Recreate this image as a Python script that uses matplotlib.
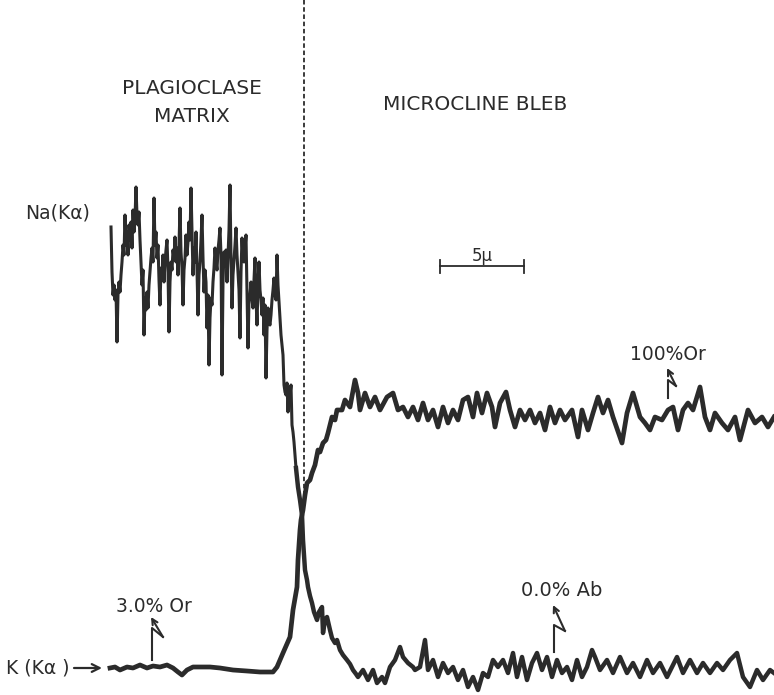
import numpy as np
from matplotlib import pyplot as plt

# Traza Na(Ka) no plagioclasio (uma leitura por pixel, x = 111..296)
na_plag_x = list(range(111, 297))
na_plag_y = [227, 272, 295, 285, 300, 290, 342, 295, 282, 292,
             275, 262, 245, 255, 215, 245, 232, 255, 225, 240,
             222, 248, 210, 232, 218, 187, 215, 225, 212, 240,
             262, 285, 270, 335, 298, 310, 292, 308, 285, 272,
             258, 248, 262, 198, 245, 232, 258, 245, 280, 305,
             268, 278, 255, 282, 262, 250, 240, 270, 332, 282,
             262, 270, 250, 258, 237, 262, 248, 275, 245, 208,
             252, 268, 305, 270, 258, 235, 255, 242, 222, 240,
             188, 232, 275, 248, 262, 232, 270, 315, 275, 262,
             240, 215, 258, 292, 270, 282, 328, 295, 365, 318,
             298, 305, 282, 268, 248, 262, 270, 250, 240, 228,
             255, 375, 282, 252, 265, 250, 282, 255, 230, 185,
             258, 308, 275, 260, 245, 228, 255, 272, 290, 338,
             272, 238, 258, 262, 248, 235, 290, 348, 300, 295,
             282, 300, 308, 280, 258, 298, 325, 285, 262, 290,
             300, 315, 298, 335, 305, 378, 330, 308, 322, 325,
             315, 300, 290, 278, 295, 300, 255, 285, 302, 318,
             335, 345, 355, 385, 392, 395, 383, 412, 388, 395,
             385, 425, 432, 442, 455, 468]

# Traza Na(Ka): cruzamento -> linha de base na microclina
na_x = [296, 298, 300, 302, 303, 305, 307, 308, 310, 312,
        314, 317, 319, 322, 323, 325, 327, 330, 332, 335, 337, 340, 343, 347, 350, 353, 356, 358,
        363, 368, 373, 377, 382, 385, 390, 395, 400, 403, 408, 413, 415, 420, 425, 428, 433, 438,
        443, 448, 453, 458, 463, 468, 473, 478, 483, 488, 493, 498, 503, 508, 513, 517, 522, 527,
        532, 537, 542, 547, 552, 557, 562, 567, 572, 577, 582, 587, 592, 595, 600, 607, 613, 620,
        627, 633, 640, 647, 653, 660, 667, 677, 683, 690, 697, 703, 710, 717, 723, 730, 737, 743,
        750, 757, 763, 770, 774]
na_y = [468, 487, 500, 515, 540, 570, 580, 587, 596, 603,
        612, 620, 612, 607, 633, 620, 617, 630, 638, 643, 640, 650, 655, 660, 664, 670, 674, 677,
        670, 680, 670, 683, 677, 683, 667, 660, 647, 657, 663, 667, 670, 667, 640, 670, 660, 677,
        663, 673, 667, 680, 670, 687, 677, 690, 673, 677, 660, 667, 660, 673, 653, 677, 657, 680,
        663, 653, 670, 657, 677, 660, 673, 667, 680, 660, 677, 667, 650, 657, 670, 660, 673, 657,
        673, 663, 677, 660, 673, 663, 677, 657, 673, 660, 673, 663, 673, 663, 670, 660, 653, 677,
        687, 670, 680, 670, 673]

# Traza K(Ka): linha de base no plagioclasio -> cruzamento -> patamar na microclina
k_x = [110, 115, 120, 127, 133, 140, 147, 153, 160, 167, 173, 178, 182, 187, 193, 200, 210, 220,
       233, 247, 260, 273, 277, 283, 290, 293, 297, 298, 300, 301, 303, 305, 307, 310, 312, 315,
       318, 320, 323, 326, 328, 332, 335, 337, 342, 345, 350, 355, 358, 360, 365, 370, 375, 380,
       387, 393, 398, 403, 408, 413, 418, 423, 428, 433, 438, 443, 448, 453, 458, 463, 468, 473,
       477, 482, 487, 492, 495, 500, 506, 510, 515, 520, 525, 530, 535, 540, 545, 550, 555, 560,
       565, 572, 578, 582, 588, 593, 598, 603, 608, 613, 622, 627, 633, 640, 645, 650, 655, 662,
       668, 673, 678, 683, 688, 693, 700, 705, 710, 715, 722, 728, 735, 740, 748, 755, 762, 768,
       774]
k_y = [668, 667, 670, 667, 668, 665, 668, 666, 667, 665, 668, 672, 675, 670, 667, 667, 667, 668,
       670, 671, 672, 672, 667, 653, 637, 610, 587, 560, 530, 520, 510, 495, 483, 480, 473, 465,
       450, 452, 443, 440, 433, 417, 420, 410, 410, 400, 407, 380, 393, 410, 393, 407, 397, 410,
       397, 393, 410, 407, 417, 407, 420, 403, 420, 410, 427, 407, 423, 410, 420, 400, 397, 417,
       393, 413, 393, 407, 427, 403, 392, 410, 427, 410, 420, 410, 423, 413, 430, 407, 423, 410,
       420, 410, 437, 410, 430, 413, 397, 413, 400, 417, 443, 413, 393, 417, 423, 430, 417, 420,
       410, 407, 430, 410, 403, 410, 387, 417, 430, 413, 423, 430, 417, 440, 410, 423, 417, 427,
       417]

# Rotulos
titulos = ["PLAGIOCLASE", "MATRIX", "MICROCLINE BLEB"]
rotulos_traco = ["Na(K\u03b1)", "K (K\u03b1 )"]
rotulos_pct = ["3.0% Or", "0.0% Ab", "100%Or"]
escala = "5\u03bc"

cor = "#2b2b2b"
fig = plt.figure(figsize=(7.74, 6.95), dpi=100)
ax = fig.add_axes([0, 0, 1, 1])
ax.set_xlim(0, 774)
ax.set_ylim(695, 0)
ax.axis("off")

ax.plot(na_plag_x, na_plag_y, color=cor, lw=2.2)
ax.plot(na_x, na_y, color=cor, lw=3.2)
ax.plot(k_x, k_y, color=cor, lw=3.4)

# limite entre as fases
ax.plot([304, 304], [0, 505], color=cor, lw=1.3, ls=(0, (2.5, 1.5)))

ax.text(192, 89, titulos[0], ha="center", va="center", fontsize=14.5, color=cor)
ax.text(192, 116, titulos[1], ha="center", va="center", fontsize=14.5, color=cor)
ax.text(475, 104, titulos[2], ha="center", va="center", fontsize=14.5, color=cor)
ax.text(25, 213, rotulos_traco[0], ha="left", va="center", fontsize=13.5, color=cor)
ax.text(6, 668, rotulos_traco[1], ha="left", va="center", fontsize=13.5, color=cor)
ax.annotate("", xy=(102, 668), xytext=(74, 668),
            arrowprops=dict(arrowstyle="->", color=cor, lw=1.6, mutation_scale=14,
                            shrinkA=0, shrinkB=0))

# barra de escala
ax.plot([440, 524], [266, 266], color=cor, lw=1.3)
ax.plot([440, 440], [260, 273], color=cor, lw=1.3)
ax.plot([524, 524], [260, 273], color=cor, lw=1.3)
ax.text(482, 256, escala, ha="center", va="center", fontsize=12, color=cor)

# setas em zigue-zague
def seta(x0, y0, x1, y1, x2, y2, x3, y3):
    ax.plot([x0, x1, x2], [y0, y1, y2], color=cor, lw=1.5)
    ax.annotate("", xy=(x3, y3), xytext=(x2, y2),
                arrowprops=dict(arrowstyle="->", color=cor, lw=1.5,
                                mutation_scale=10, shrinkA=0, shrinkB=0))

seta(152, 660, 152, 628, 163, 637, 151, 617)
seta(554, 652, 554, 625, 565, 631, 553, 605)
seta(668, 398, 668, 380, 676, 386, 667, 368)

ax.text(154, 607, rotulos_pct[0], ha="center", va="center", fontsize=13.5, color=cor)
ax.text(562, 590, rotulos_pct[1], ha="center", va="center", fontsize=14, color=cor)
ax.text(668, 355, rotulos_pct[2], ha="center", va="center", fontsize=13.5, color=cor)

plt.savefig("out.png", dpi=100, facecolor="white")
